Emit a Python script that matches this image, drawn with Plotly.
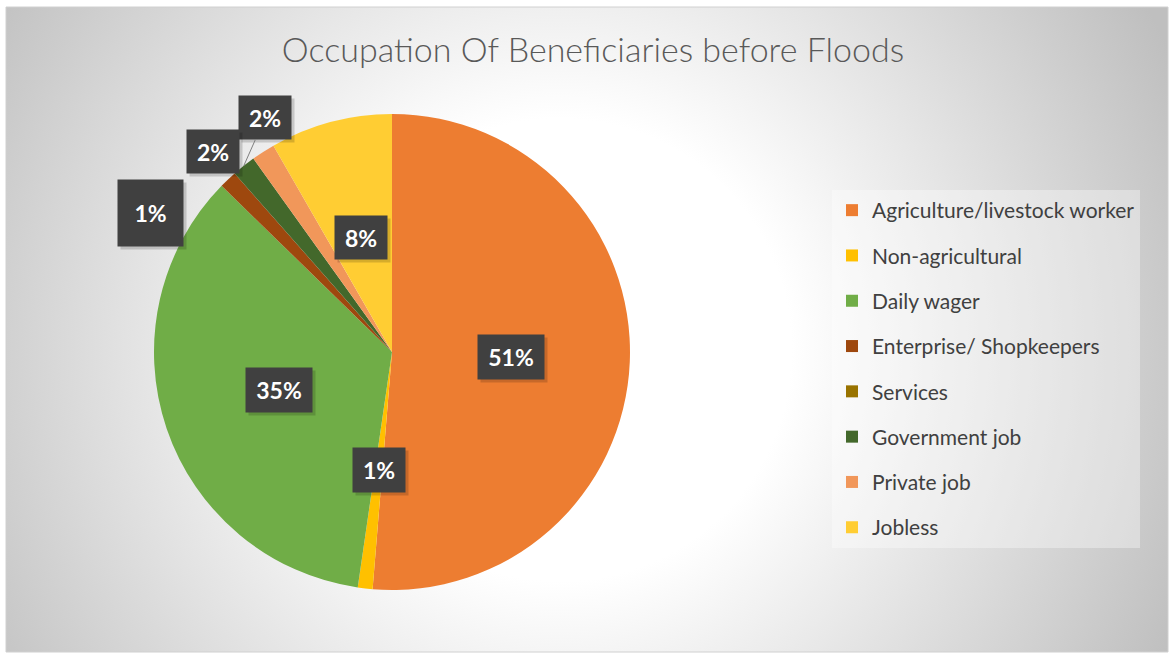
import math
import base64
import plotly.graph_objects as go

# ---------------- data ----------------
categories = [
    "Agriculture/livestock worker",
    "Non-agricultural",
    "Daily wager",
    "Enterprise/ Shopkeepers",
    "Services",
    "Government job",
    "Private job",
    "Jobless",
]
shares = [51.3, 1.0, 35.0, 1.2, 0.0, 1.6, 1.6, 8.3]
colors = ["#ED7D31", "#FFC000", "#70AD47", "#9E480E", "#997300", "#43682B", "#F1975A", "#FFCD33"]
title_text = "Occupation Of Beneficiaries before Floods"

# ---------------- label styling (radius factor, angle shift, box size, leader) ----------------
label_r = [0.5, 0.5, 0.5, 1.17, None, 1.12, 1.13, 0.5]
label_shift = [0, 0, 0, -16.6, 0, 10.1, -9.0, 0]          # degrees, clockwise
label_leader = [False, False, False, False, False, True, False, False]
label_box = [(64, 42), (50, 42), (64, 42), (63, 64), None, (50, 41), (50, 41), (50, 41)]

W, H = 1171, 657
CX, CY, R = 392, 352, 238  # pie centre / radius in pixels

fig = go.Figure()

# background radial gradient as an SVG image
bx0, by0, bx1, by1 = 6, 7, 1168, 652
bw, bh = bx1 - bx0, by1 - by0
svg = f'''<svg xmlns="http://www.w3.org/2000/svg" width="{bw}" height="{bh}" viewBox="0 0 {bw} {bh}" preserveAspectRatio="none">
<defs><radialGradient id="g" gradientUnits="userSpaceOnUse" cx="{560-bx0}" cy="{350-by0}" r="680">
<stop offset="0" stop-color="#ffffff"/><stop offset="0.34" stop-color="#ffffff"/>
<stop offset="1" stop-color="#bfbfbf"/></radialGradient></defs>
<rect x="0" y="0" width="{bw}" height="{bh}" fill="url(#g)"/></svg>'''
src = "data:image/svg+xml;base64," + base64.b64encode(svg.encode()).decode()

total = sum(shares)
texts = [f"{v / total * 100:.0f}%" if v > 0 else "" for v in shares]

fig.add_trace(go.Pie(
    labels=categories, values=shares, sort=False, direction="clockwise", rotation=0,
    marker=dict(colors=colors, line=dict(width=0)),
    textinfo="none", showlegend=False,
    domain=dict(x=[(CX - R) / W, (CX + R) / W], y=[(H - CY - R) / H, (H - CY + R) / H]),
    hovertemplate="%{label}: %{percent}<extra></extra>",
))

# legend entries (one group each so spacing can be controlled)
for cat, col in zip(categories, colors):
    fig.add_trace(go.Scatter(
        x=[None], y=[None], mode="markers", name=cat, legendgroup=cat,
        marker=dict(symbol="square", size=12, color=col),
    ))

# data labels
annotations = []
cum = 0.0
for i, v in enumerate(shares):
    start = cum
    cum += v
    if v <= 0 or label_r[i] is None:
        continue
    mid = (start + v / 2) / total * 360.0
    ang = math.radians(mid + label_shift[i])
    lx = CX + label_r[i] * R * math.sin(ang)
    ly = CY - label_r[i] * R * math.cos(ang)
    w, h = label_box[i]
    # shadow
    annotations.append(dict(
        x=lx / W, y=1 - ly / H, xref="paper", yref="paper", text=" ", showarrow=False,
        width=w, height=h, bgcolor="rgba(0,0,0,0.16)", xshift=3, yshift=-3,
        xanchor="center", yanchor="middle",
    ))
    common = dict(
        text=f"<b>{texts[i]}</b>", width=w, height=h, bgcolor="#404040",
        font=dict(family="Lato", size=23, color="white"), xref="paper", yref="paper",
        align="center", valign="middle",
    )
    if label_leader[i]:
        tmid = math.radians(mid)
        tx = CX + R * math.sin(tmid)
        ty = CY - R * math.cos(tmid)
        annotations.append(dict(
            x=tx / W, y=1 - ty / H, showarrow=True, arrowhead=0, arrowwidth=1,
            arrowcolor="#7f7f7f", ax=lx - tx, ay=ly - ty, standoff=0, **common,
        ))
    else:
        annotations.append(dict(x=lx / W, y=1 - ly / H, showarrow=False,
                                xanchor="center", yanchor="middle", **common))

fig.update_layout(
    width=W, height=H,
    margin=dict(l=0, r=0, t=0, b=0),
    paper_bgcolor="white", plot_bgcolor="rgba(0,0,0,0)",
    xaxis=dict(visible=False), yaxis=dict(visible=False),
    images=[dict(source=src, xref="paper", yref="paper", x=bx0 / W, y=1 - by0 / H,
                 sizex=bw / W, sizey=bh / H, sizing="stretch", layer="below",
                 xanchor="left", yanchor="top")],
    shapes=[dict(type="rect", xref="paper", yref="paper", x0=bx0 / W, x1=bx1 / W,
                 y0=1 - by1 / H, y1=1 - by0 / H, line=dict(color="#d0d0d0", width=1),
                 layer="above")],
    title=dict(text=title_text, x=593 / W, xanchor="center", y=1 - 50 / H, yanchor="middle",
               xref="paper", yref="container",
               font=dict(family="Lato", size=34, color="#595959", weight=300)),
    legend=dict(x=832 / W, y=1 - 190 / H, xanchor="left", yanchor="top",
                bgcolor="rgba(255,255,255,0.35)", borderwidth=0,
                font=dict(family="Lato", size=21, color="#404040"),
                tracegroupgap=15, itemwidth=30, traceorder="grouped"),
    annotations=annotations,
)

fig.write_html("out.html", config={"displayModeBar": False},
               post_script="document.body.style.margin='0px';")
